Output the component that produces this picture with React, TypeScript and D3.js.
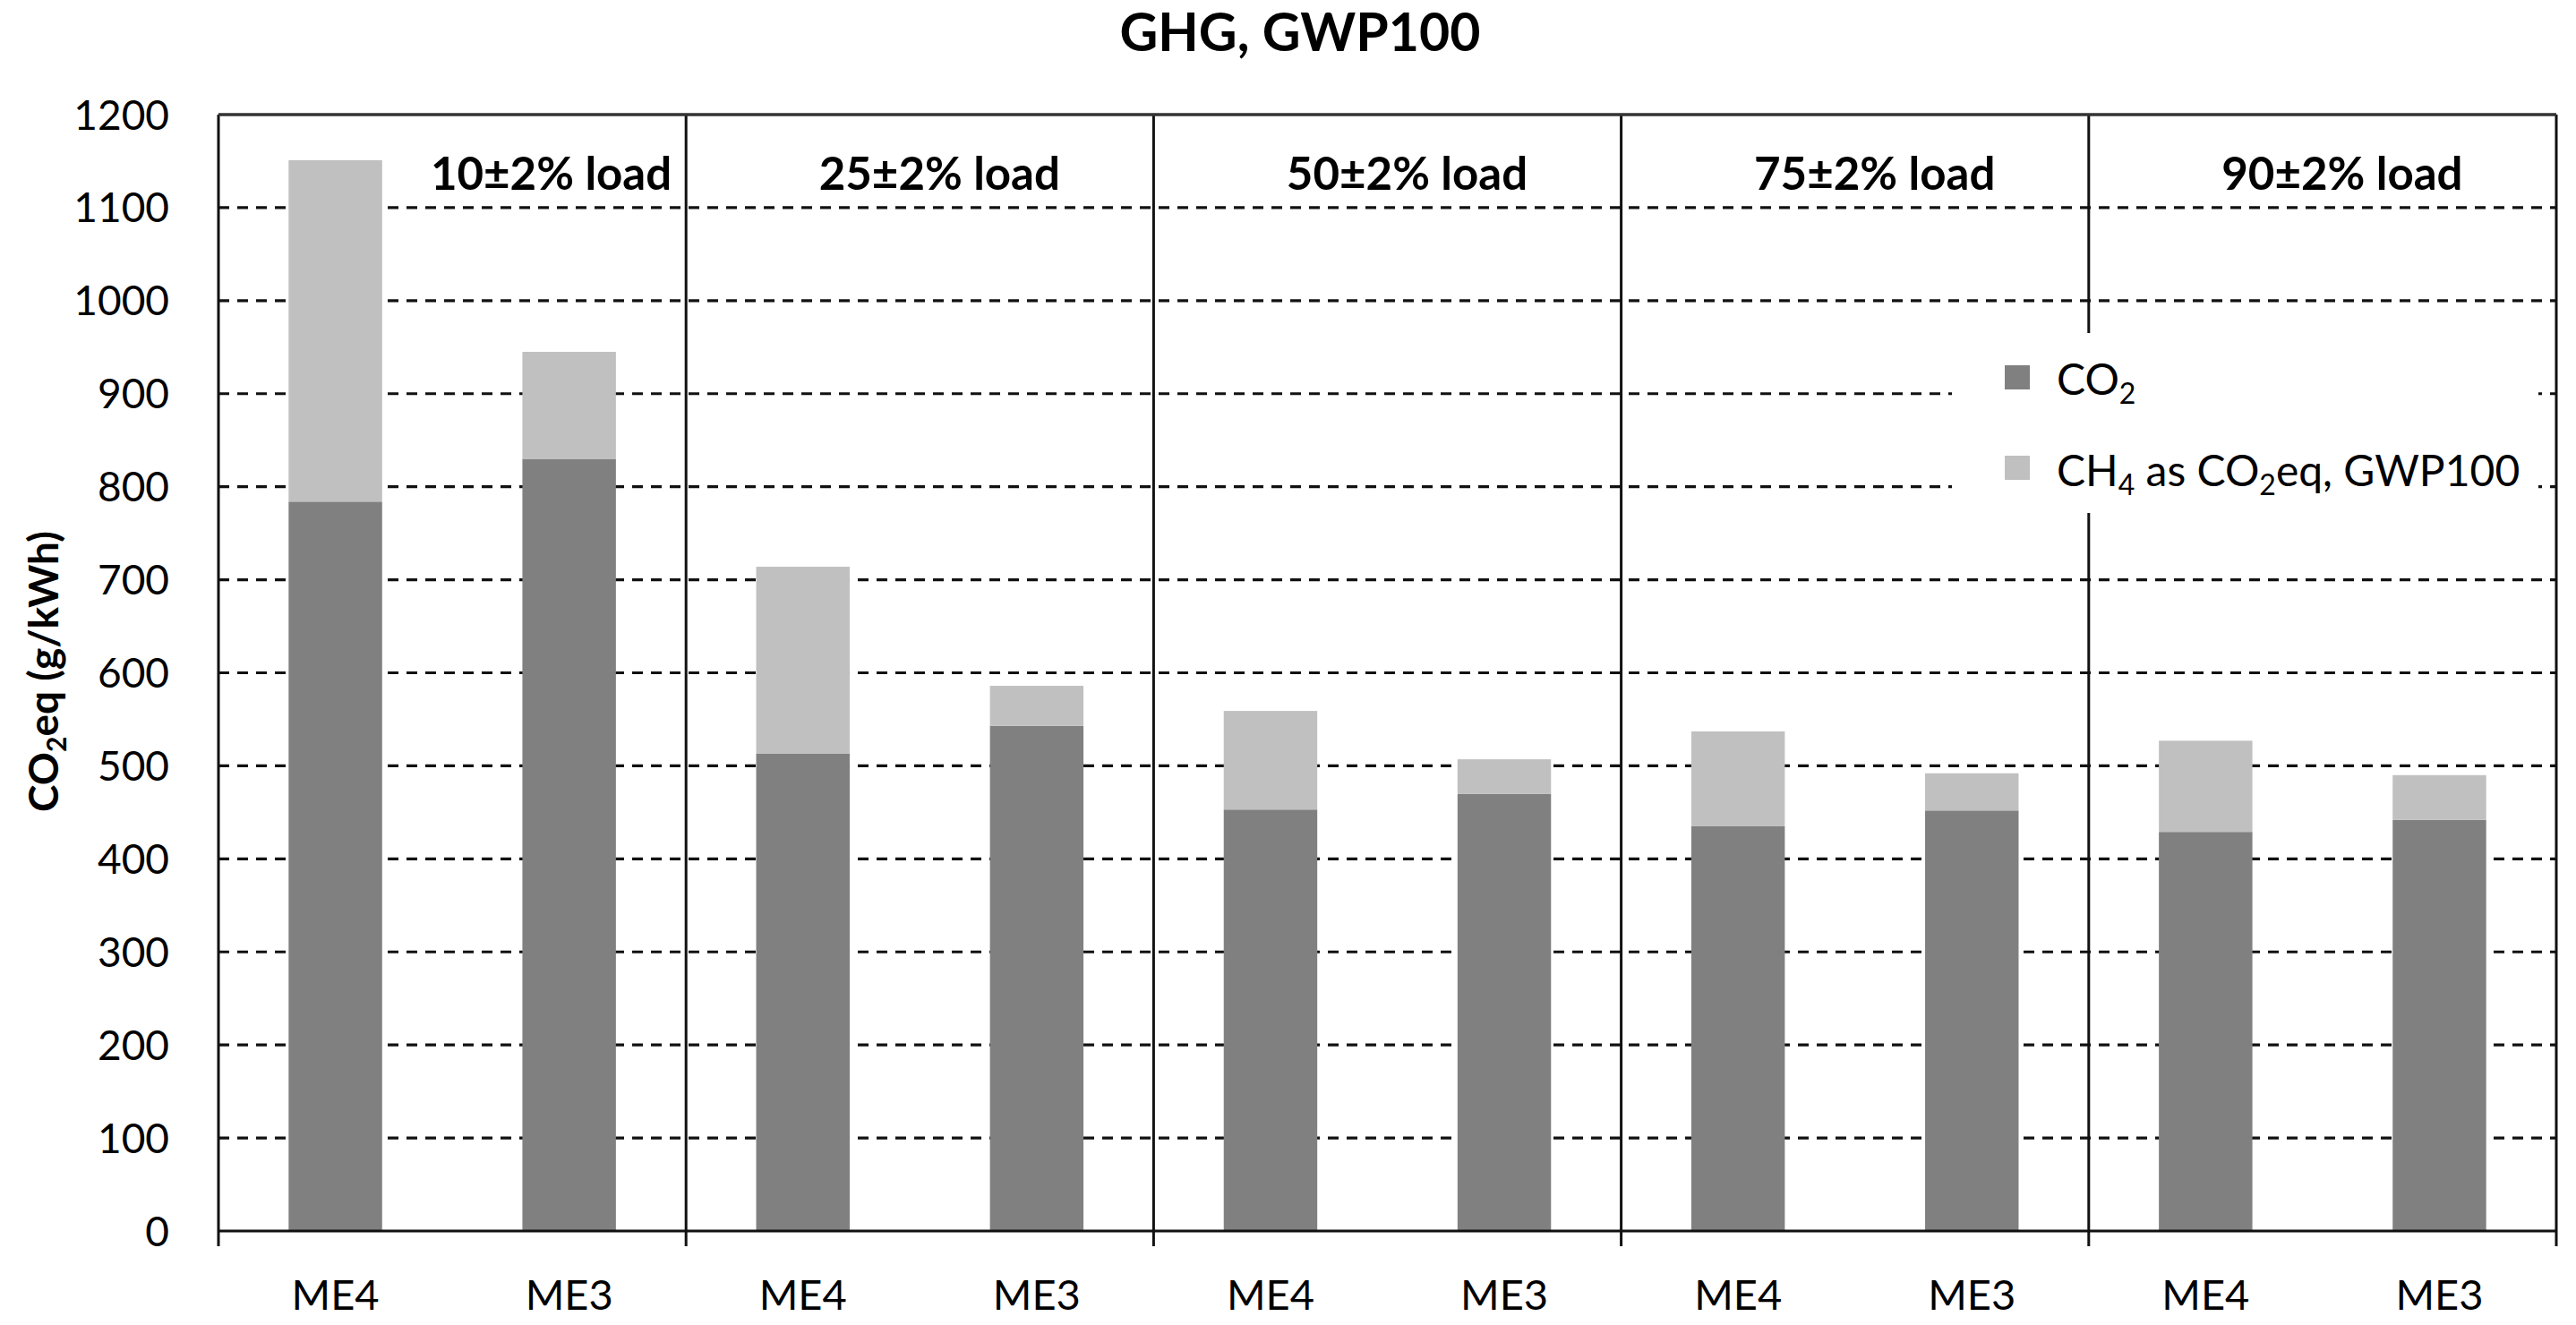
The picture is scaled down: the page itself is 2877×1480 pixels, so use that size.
import React from 'react';
import * as d3 from 'd3';

const loads = ['10±2% load', '25±2% load', '50±2% load', '75±2% load', '90±2% load'];
const engines = ['ME4', 'ME3'];
// order: for each load, ME4 then ME3
const co2Values = [784, 830, 513, 543, 453, 470, 435, 452, 429, 442];
const ch4Values = [367, 115, 201, 43, 106, 37, 102, 40, 98, 48];
const yTicks = [0, 100, 200, 300, 400, 500, 600, 700, 800, 900, 1000, 1100, 1200];
const seriesNames = ['CO2', 'CH4 as CO2eq, GWP100'];
const seriesColors = ['#808080', '#c0c0c0'];

const W = 2877;
const H = 1480;
const left = 244;
const right = 2855;
const top = 128;
const bottom = 1375;
const FONT = 'Lato, "Open Sans", sans-serif';

export default function App() {
  const y = d3.scaleLinear().domain([0, 1200]).range([bottom, top]);
  const xGroup = d3.scaleBand<string>().domain(loads).range([left, right]).padding(0);
  const xInner = d3
    .scaleBand<string>()
    .domain(engines)
    .range([0, xGroup.bandwidth()])
    .paddingInner(0.6)
    .paddingOuter(0.3);

  const rows = loads.flatMap((l, li) =>
    engines.map((e, ei) => ({
      load: l,
      engine: e,
      co2: co2Values[li * 2 + ei],
      ch4: ch4Values[li * 2 + ei],
    }))
  );
  const stack = d3.stack<any>().keys(['co2', 'ch4'])(rows);

  const boundaries = [...loads.map((l) => xGroup(l) as number), right];

  return (
    <svg
      width={W}
      height={H}
      style={{ position: 'absolute', left: 0, top: 0, background: '#fff' }}
      fontFamily={FONT}
    >
      <rect x={0} y={0} width={W} height={H} fill="#fff" />
      {/* title */}
      <text x={1452} y={57} textAnchor="middle" fontWeight="bold" fontSize={59} fill="#000">
        GHG, GWP100
      </text>

      {/* dashed gridlines */}
      {yTicks
        .filter((t) => t > 0 && t < 1200)
        .map((t) => (
          <line
            key={'g' + t}
            x1={left}
            x2={right}
            y1={y(t)}
            y2={y(t)}
            stroke="#111"
            strokeWidth={3.2}
            strokeDasharray="12 9"
          />
        ))}

      {/* bars */}
      {stack.map((s, si) =>
        s.map((d, i) => {
          const r = rows[i];
          const x0 = (xGroup(r.load) as number) + (xInner(r.engine) as number);
          return (
            <rect
              key={si + '-' + i}
              x={x0}
              y={y(d[1])}
              width={xInner.bandwidth()}
              height={y(d[0]) - y(d[1])}
              fill={seriesColors[si]}
            />
          );
        })
      )}

      {/* separators and borders */}
      {boundaries.map((b, i) => (
        <line key={'s' + i} x1={b} x2={b} y1={top} y2={bottom + 17} stroke="#111" strokeWidth={3} />
      ))}
      <line x1={left} x2={right} y1={top} y2={top} stroke="#333" strokeWidth={3.5} />
      <line x1={left} x2={right} y1={bottom} y2={bottom} stroke="#111" strokeWidth={3} />

      {/* legend */}
      <rect x={2180} y={372} width={655} height={201} fill="#fff" />
      {seriesNames.map((n, i) => (
        <g key={'lg' + i}>
          <rect x={2239} y={408 + i * 101} width={28} height={27} fill={seriesColors[i]} />
        </g>
      ))}
      <text x={2297} y={441} fontSize={48} fill="#000">
        CO<tspan fontSize={32} dy={10}>2</tspan>
      </text>
      <text x={2297} y={543} fontSize={48} fill="#000">
        CH<tspan fontSize={32} dy={10}>4</tspan>
        <tspan dy={-10}> as CO</tspan>
        <tspan fontSize={32} dy={10}>2</tspan>
        <tspan dy={-10}>eq, GWP100</tspan>
      </text>

      {/* load labels */}
      {loads.map((l, i) => {
        const gx = xGroup(l) as number;
        const bw = xGroup.bandwidth();
        const first = i === 0;
        return (
          <text
            key={'ll' + i}
            x={first ? gx + bw - 16 : gx + bw / 2 + 22}
            y={212}
            textAnchor={first ? 'end' : 'middle'}
            fontWeight="bold"
            fontSize={51}
            fill="#000"
          >
            {l}
          </text>
        );
      })}

      {/* y tick labels */}
      {yTicks.map((t) => (
        <text key={'yt' + t} x={189} y={y(t)} dy="0.36em" textAnchor="end" fontSize={46} fill="#000">
          {t}
        </text>
      ))}

      {/* x labels */}
      {rows.map((r, i) => (
        <text
          key={'xl' + i}
          x={(xGroup(r.load) as number) + (xInner(r.engine) as number) + xInner.bandwidth() / 2}
          y={1463}
          textAnchor="middle"
          fontSize={47}
          fill="#000"
        >
          {r.engine}
        </text>
      ))}

      {/* y axis title */}
      <text
        transform="translate(65,750) rotate(-90)"
        textAnchor="middle"
        fontWeight="bold"
        fontSize={46}
        fill="#000"
      >
        CO<tspan fontSize={30} dy={9}>2</tspan>
        <tspan dy={-9}>eq (g/kWh)</tspan>
      </text>
    </svg>
  );
}
